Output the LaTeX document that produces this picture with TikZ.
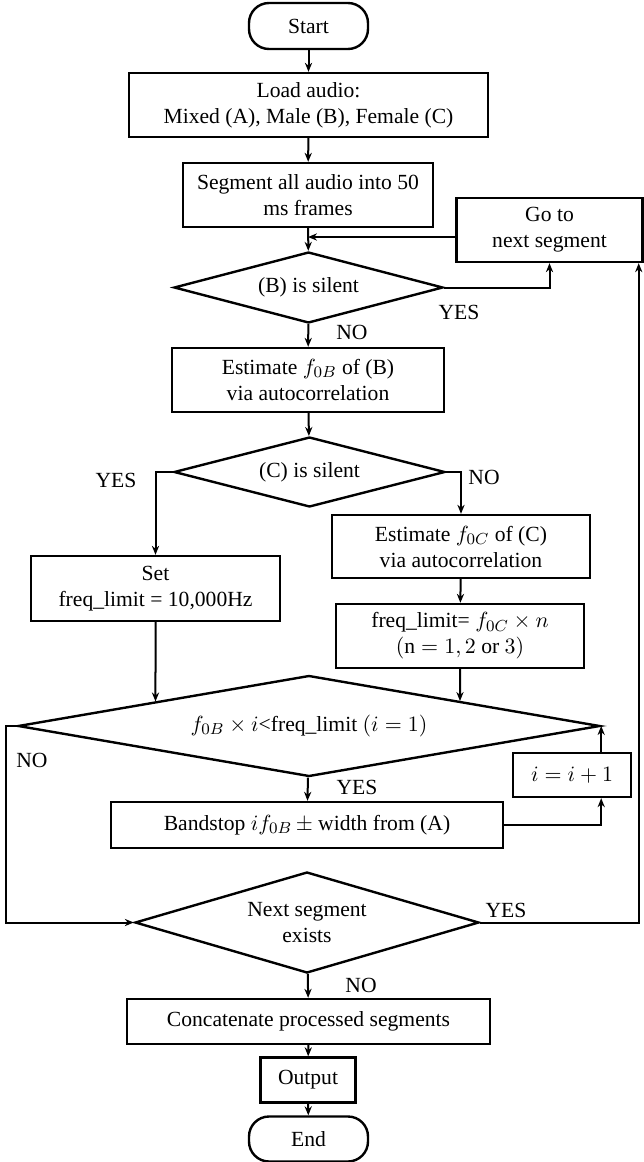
\documentclass[tikz,border=0pt]{standalone}
\usepackage{amsmath}
\usepackage{fontspec}
\setmainfont{Liberation Serif}
\usetikzlibrary{shapes.geometric, arrows.meta, calc}

\tikzset{
    box/.style={draw, line width=1.2pt, align=center, inner sep=2pt},
    term/.style={box, rounded corners=10pt},
    decision/.style={draw, diamond, line width=1.2pt, align=center, inner sep=0pt},
    flow/.style={->, line width=1pt},
    lbl/.style={inner sep=0pt}
}

\begin{document}
\begin{tikzpicture}[x=0.5pt, y=-0.5pt, line join=miter, >={Stealth[length=4.5pt, width=3.6pt]},
    font=\fontsize{10.8pt}{13pt}\selectfont]
    \useasboundingbox (0,0) rectangle (643,1162);

    % Khối chính
    \node[term, minimum width=59.5pt, minimum height=23pt] (start) at (308.5,26) {Start};
    \node[box, minimum width=179.5pt, minimum height=32pt] (load) at (308.5,105)
        {Load audio:\\Mixed (A), Male (B), Female (C)};
    \node[box, minimum width=125pt, minimum height=32pt] (seg) at (308,195)
        {Segment all audio into 50\\ms frames};
    \node[box, minimum width=93pt, minimum height=32pt] (goto) at (549.5,230)
        {Go to\\next segment};
    \node[decision, aspect=3.79, minimum width=134.5pt, minimum height=35.5pt] (silentB) at (308.5,287.5)
        {(B) is silent};
    \node[box, minimum width=136pt, minimum height=32pt] (estB) at (308,380)
        {Estimate $f_{0B}$ of (B)\\via autocorrelation};
    \node[decision, aspect=3.87, minimum width=135.5pt, minimum height=35pt] (silentC) at (309.5,472)
        {(C) is silent};
    \node[box, minimum width=124.5pt, minimum height=32.5pt] (setlim) at (155.5,588.5)
        {Set\\freq\_limit = 10,000Hz};
    \node[box, minimum width=129pt, minimum height=31.5pt] (estC) at (461,546.5)
        {Estimate $f_{0C}$ of (C)\\via autocorrelation};
    \node[box, minimum width=124pt, minimum height=32pt] (freqlim) at (460,636)
        {freq\_limit= $f_{0C}\times n$\\$(\mathrm{n} = 1, 2$ or $3)$};
    \node[decision, aspect=5.76, minimum width=291pt, minimum height=50.5pt] (check) at (309,726)
        {$f_{0B}\times i$<freq\_limit $(i = 1)$};
    \node[box, minimum width=59pt, minimum height=22pt] (inc) at (572,775) {$i = i + 1$};
    \node[box, minimum width=196pt, minimum height=23pt] (band) at (307,825)
        {Bandstop $if_{0B}\,\pm$ width from (A)};
    \node[decision, aspect=3.41, minimum width=172pt, minimum height=50.5pt] (next) at (307,922.5)
        {Next segment\\exists};
    \node[box, minimum width=181.5pt, minimum height=22.5pt] (concat) at (308.5,1021.5)
        {Concatenate processed segments};
    \node[box, minimum width=47.5pt, minimum height=22.5pt] (out) at (308,1080) {Output};
    \node[term, minimum width=59.5pt, minimum height=22.5pt] (stop) at (308.5,1139) {End};

    % Nhãn YES / NO
    \node[lbl] (yesB) at (459,312) {YES};
    \node[lbl] (noB) at (352,332) {NO};
    \node[lbl] (yesC) at (116,480) {YES};
    \node[lbl] (noC) at (484,477) {NO};
    \node[lbl] (noChk) at (32,760) {NO};
    \node[lbl] (yesChk) at (357,787) {YES};
    \node[lbl] (yesNext) at (506,910) {YES};
    \node[lbl] (noNext) at (361,985) {NO};

    % Điểm phụ
    \coordinate (gw) at ([yshift=-3.5pt]goto.west);
    \coordinate (rt) at ([xshift=-2.5pt]goto.south east);
    \coordinate (setfoot) at (setlim.south |- check.south);
    \coordinate (freqfoot) at (freqlim.south |- check.south);

    % Mũi tên
    \draw[flow] (start) -- (load);
    \draw[flow] (load) -- (seg);
    \draw[flow] (seg) -- (silentB);
    \draw[flow] (gw) -- (seg.south |- gw);
    \draw[flow] (silentB.east) -| (goto.south);
    \draw[flow] (silentB) -- (estB);
    \draw[flow] (estB) -- (silentC);
    \draw[flow] (silentC.west) -| (setlim.north);
    \draw[flow] (silentC.east) -| (estC.north);
    \draw[flow] (estC) -- (freqlim);
    \draw[flow] (setlim.south) -- (intersection of setlim.south--setfoot and check.west--check.north);
    \draw[flow] (freqlim.south) -- (intersection of freqlim.south--freqfoot and check.east--check.north);
    \draw[flow] (check) -- (band);
    \draw[flow] (band.east) -| (check.east |- inc.south);
    \draw[flow] (check.east |- inc.north) -- (check.east);
    \draw[flow] (check.west) -- ++(-11,0) |- (next.west);
    \draw[flow] (next.east) -| (rt);
    \draw[flow] (next) -- (concat);
    \draw[flow] (concat) -- (out);
    \draw[flow] (out) -- (stop);
\end{tikzpicture}
\end{document}
